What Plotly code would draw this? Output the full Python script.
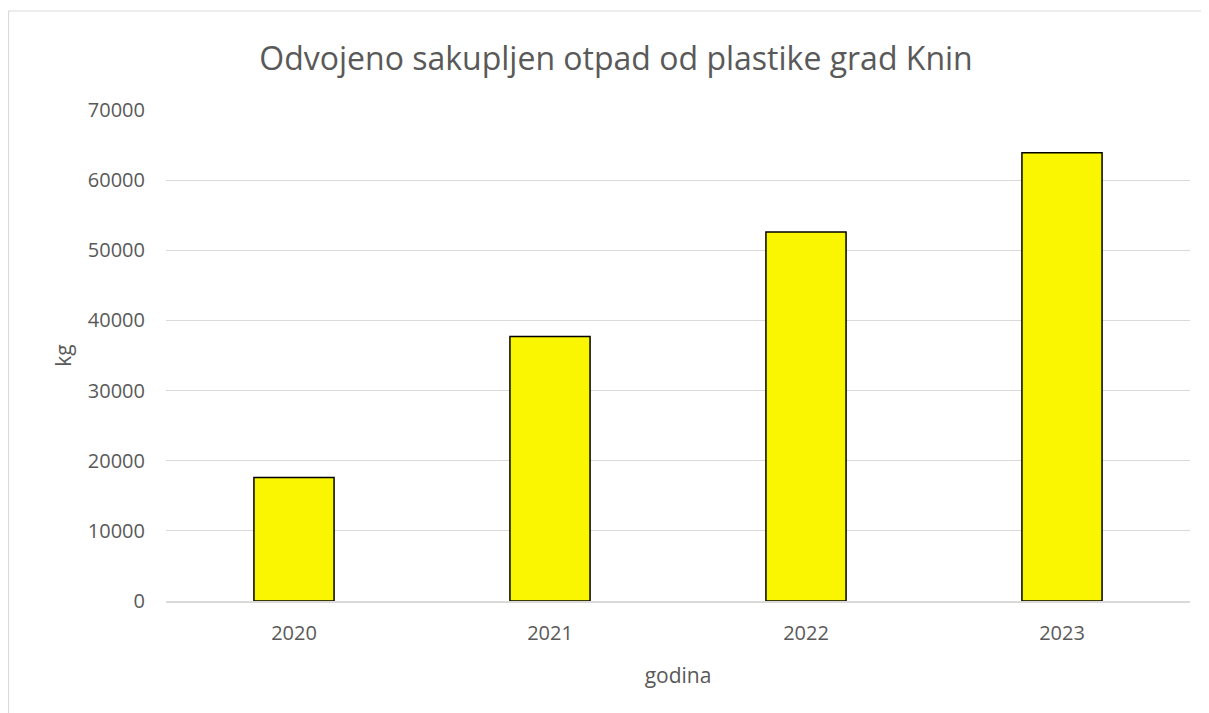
import plotly.graph_objects as go

years = ["2020", "2021", "2022", "2023"]
kg_values = [17600, 37700, 52600, 63900]
y_ticks = [0, 10000, 20000, 30000, 40000, 50000, 60000, 70000]

# page has an 8px body margin; figure sized to fit the window
W, H = 1201, 705
L, R, T, B = 158, 19, 102, 112

fig = go.Figure()
fig.add_trace(go.Bar(
    x=years, y=kg_values,
    marker=dict(color="#FAF500", line=dict(color="#000000", width=1.5)),
))

pw = W - L - R
ph = H - T - B
x0 = (0.5 - L) / pw
y1 = 1 + (T - 3) / ph
fig.add_shape(type="rect", xref="paper", yref="paper",
              x0=x0, x1=x0 + 1.3, y0=-1, y1=y1,
              line=dict(color="#D9D9D9", width=1.2), layer="below")

font_fam = "Open Sans, Liberation Sans, sans-serif"
fig.update_layout(
    width=W, height=H,
    margin=dict(l=L, r=R, t=T, b=B),
    paper_bgcolor="white", plot_bgcolor="white",
    bargap=0.687,
    showlegend=False,
    title=dict(text="Odvojeno sakupljen otpad od plastike grad Knin",
               x=(616 - 8) / W, xanchor="center", xref="container",
               y=1 - 51 / H, yanchor="middle",
               font=dict(family=font_fam, size=32, color="#595959")),
    font=dict(family=font_fam, color="#595959"),
    xaxis=dict(
        title=dict(text="godina", font=dict(size=21, color="#595959"), standoff=24),
        tickfont=dict(size=20, color="#595959"),
        showgrid=False, showline=True, linecolor="#D9D9D9", linewidth=1.5,
        ticks="", ticklabelstandoff=13,
    ),
    yaxis=dict(
        title=dict(text="kg", font=dict(size=21, color="#595959"), standoff=10),
        tickfont=dict(size=20, color="#595959"),
        range=[0, 70000], tickvals=y_ticks, ticktext=[str(v) for v in y_ticks],
        showgrid=True, gridcolor="#D9D9D9", gridwidth=1.2,
        zeroline=False, showline=False, ticks="", ticklabelstandoff=20,
    ),
)

fig.write_html("out.html")
